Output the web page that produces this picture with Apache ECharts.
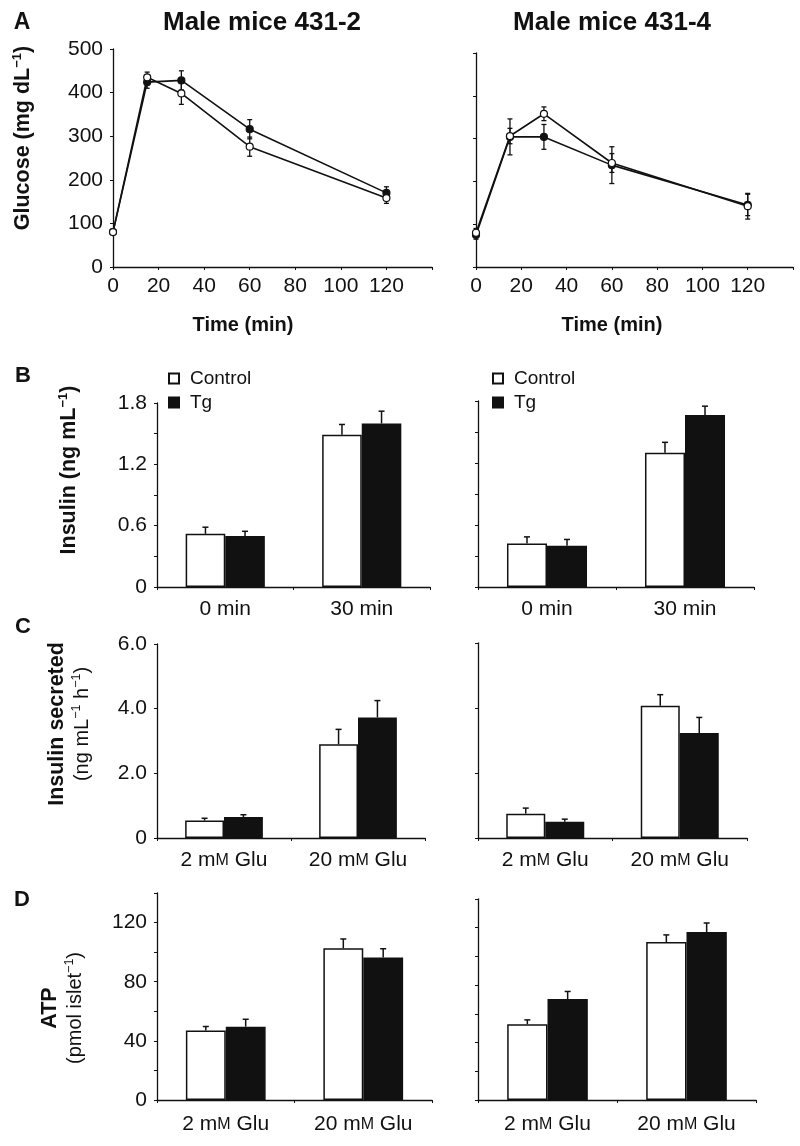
<!DOCTYPE html>
<html>
<head>
<meta charset="utf-8">
<script src="https://cdn.jsdelivr.net/npm/echarts@6/dist/echarts.min.js"></script>
<style>
html,body{margin:0;padding:0;background:#fff;}
#chart{width:800px;height:1146px;}
</style>
</head>
<body>
<div id="chart"></div>
<script>
// ---------- DATA ----------
const timePoints = [0, 15, 30, 60, 120];
const timeTicks = [0, 20, 40, 60, 80, 100, 120];

const glu431_2_control = [80, 435, 398, 276, 158];
const glu431_2_controlErr = [5, 12, 25, 22, 12];
const glu431_2_tg = [80, 424, 428, 316, 170];
const glu431_2_tgErr = [5, 14, 22, 22, 14];

const glu431_4_control = [80, 306, 358, 243, 142];
const glu431_4_controlErr = [10, 18, 16, 22, 30];
const glu431_4_tg = [75, 304, 304, 238, 145];
const glu431_4_tgErr = [10, 42, 29, 43, 25];

const insulinCats = ['0 min', '30 min'];
const ins431_2_control = [0.52, 1.49];
const ins431_2_controlErr = [0.065, 0.10];
const ins431_2_tg = [0.50, 1.60];
const ins431_2_tgErr = [0.045, 0.12];
const ins431_4_control = [0.42, 1.30];
const ins431_4_controlErr = [0.065, 0.10];
const ins431_4_tg = [0.40, 1.665];
const ins431_4_tgErr = [0.06, 0.085];

const gluCats = ['2 mM Glu', '20 mM Glu'];
const sec431_2_control = [0.54, 2.90];
const sec431_2_controlErr = [0.07, 0.46];
const sec431_2_tg = [0.65, 3.73];
const sec431_2_tgErr = [0.07, 0.52];
const sec431_4_control = [0.75, 4.07];
const sec431_4_controlErr = [0.17, 0.34];
const sec431_4_tg = [0.50, 3.23];
const sec431_4_tgErr = [0.08, 0.48];

const atp431_2_control = [47, 102.6];
const atp431_2_controlErr = [2.7, 6.3];
const atp431_2_tg = [49.6, 96.3];
const atp431_2_tgErr = [5, 6];
const atp431_4_control = [52.8, 110];
const atp431_4_controlErr = [3, 5];
const atp431_4_tg = [70.3, 117];
const atp431_4_tgErr = [5.3, 6.3];

// ---------- STYLE ----------
const FONT = '"Liberation Sans", Arial, Helvetica, sans-serif';
const INK = '#111';
const GAP = 0.42;

const chart = echarts.init(document.getElementById('chart'), null, {renderer: 'canvas'});

const grids = [
  {left: 113, top: 49, width: 319, height: 218},    // A left
  {left: 476, top: 53, width: 317, height: 214},    // A right
  {left: 157, top: 403, width: 273, height: 184},   // B left
  {left: 478, top: 401, width: 276, height: 186},   // B right
  {left: 157, top: 644, width: 268, height: 194},   // C left
  {left: 478, top: 643, width: 269, height: 195},   // C right
  {left: 157, top: 893, width: 275, height: 207},   // D left
  {left: 478, top: 899, width: 278, height: 201}    // D right
].map(g => Object.assign({outerBoundsMode: 'none', containLabel: false}, g));

const axisLine = {show: true, lineStyle: {color: INK, width: 1.3}};
const axisTick = {show: true, inside: false, length: 3, lineStyle: {color: INK, width: 1}};
const lblStyle = {color: INK, fontFamily: FONT, fontSize: 21};

function near(v, step){ return Math.abs(v / step - Math.round(v / step)) < 1e-6; }

const xAxes = [];
const yAxes = [];
// A
[0, 1].forEach(i => {
  xAxes.push({gridIndex: i, type: 'value', min: 0, max: 140, interval: 20,
    axisLine, axisTick, splitLine: {show: false},
    axisLabel: Object.assign({}, lblStyle, {margin: 9,
      formatter: v => timeTicks.indexOf(v) >= 0 ? String(v) : ''})});
  yAxes.push({gridIndex: i, type: 'value', min: 0, max: 500, interval: 100,
    axisLine, axisTick, splitLine: {show: false},
    axisLabel: Object.assign({}, lblStyle, {show: i === 0, margin: 10})});
});
const catLabel = Object.assign({}, lblStyle, {margin: 12, interval: 0,
  formatter: v => v.replace('mM', 'm{sc|M}'),
  rich: {sc: {fontFamily: FONT, fontSize: 16, color: INK}}});
// B
[2, 3].forEach(i => {
  xAxes.push({gridIndex: i, type: 'category', data: insulinCats, boundaryGap: true,
    axisLine, axisTick: Object.assign({}, axisTick, {alignWithLabel: false, interval: 0}),
    axisLabel: catLabel});
  yAxes.push({gridIndex: i, type: 'value', min: 0, max: 1.8, interval: 0.3,
    axisLine, axisTick, splitLine: {show: false},
    axisLabel: Object.assign({}, lblStyle, {show: i === 2, margin: 10,
      formatter: v => near(v, 0.6) ? (v === 0 ? '0' : v.toFixed(1)) : ''})});
});
// C
[4, 5].forEach(i => {
  xAxes.push({gridIndex: i, type: 'category', data: gluCats, boundaryGap: true,
    axisLine, axisTick: Object.assign({}, axisTick, {alignWithLabel: false, interval: 0}),
    axisLabel: catLabel});
  yAxes.push({gridIndex: i, type: 'value', min: 0, max: 6, interval: 2,
    axisLine, axisTick, splitLine: {show: false},
    axisLabel: Object.assign({}, lblStyle, {show: i === 4, margin: 10,
      formatter: v => v === 0 ? '0' : v.toFixed(1)})});
});
// D
[6, 7].forEach(i => {
  xAxes.push({gridIndex: i, type: 'category', data: gluCats, boundaryGap: true,
    axisLine, axisTick: Object.assign({}, axisTick, {alignWithLabel: false, interval: 0}),
    axisLabel: Object.assign({}, catLabel, {margin: 14})});
  yAxes.push({gridIndex: i, type: 'value', min: 0, max: 140, interval: 20,
    axisLine, axisTick, splitLine: {show: false},
    axisLabel: Object.assign({}, lblStyle, {show: i === 6, margin: 10,
      formatter: v => near(v, 40) ? String(v) : ''})});
});

const series = [];

// ---- glucose lines with error bars ----
function lineErr(axisIdx, vals, errs, name) {
  series.push({
    type: 'custom', name: name + ' err', xAxisIndex: axisIdx, yAxisIndex: axisIdx, z: 2,
    data: timePoints.map((t, k) => [t, vals[k], errs[k]]),
    encode: {x: 0, y: 1},
    renderItem: (params, api) => {
      const x = api.value(0), v = api.value(1), e = api.value(2);
      const hi = api.coord([x, v + e]), lo = api.coord([x, v - e]);
      const st = {stroke: INK, lineWidth: 1.3};
      return {type: 'group', children: [
        {type: 'line', shape: {x1: hi[0], y1: hi[1], x2: lo[0], y2: lo[1]}, style: st},
        {type: 'line', shape: {x1: hi[0] - 2.5, y1: hi[1], x2: hi[0] + 2.5, y2: hi[1]}, style: st},
        {type: 'line', shape: {x1: lo[0] - 2.5, y1: lo[1], x2: lo[0] + 2.5, y2: lo[1]}, style: st}
      ]};
    }
  });
}
function glucoseLine(axisIdx, vals, name, filled, z) {
  series.push({
    type: 'line', name: name, xAxisIndex: axisIdx, yAxisIndex: axisIdx, z: z,
    data: timePoints.map((t, k) => [t, vals[k]]),
    symbol: 'circle', symbolSize: 7, showSymbol: true,
    lineStyle: {color: INK, width: 1.6},
    itemStyle: {color: filled ? INK : '#fff', borderColor: INK, borderWidth: 1.2},
    animation: false
  });
}
lineErr(0, glu431_2_tg, glu431_2_tgErr, 'Tg 431-2');
lineErr(0, glu431_2_control, glu431_2_controlErr, 'Control 431-2');
glucoseLine(0, glu431_2_tg, 'Tg 431-2 glucose', true, 3);
glucoseLine(0, glu431_2_control, 'Control 431-2 glucose', false, 4);
lineErr(1, glu431_4_tg, glu431_4_tgErr, 'Tg 431-4');
lineErr(1, glu431_4_control, glu431_4_controlErr, 'Control 431-4');
glucoseLine(1, glu431_4_tg, 'Tg 431-4 glucose', true, 3);
glucoseLine(1, glu431_4_control, 'Control 431-4 glucose', false, 4);

// ---- bars with upward error bars ----
function barPair(axisIdx, ctrl, ctrlErr, tg, tgErr) {
  series.push({
    type: 'bar', name: 'Control', xAxisIndex: axisIdx, yAxisIndex: axisIdx,
    data: ctrl, barGap: '0%', barCategoryGap: (GAP * 100) + '%',
    itemStyle: {color: '#fff', borderColor: INK, borderWidth: 1.5}, z: 2
  });
  series.push({
    type: 'bar', name: 'Tg', xAxisIndex: axisIdx, yAxisIndex: axisIdx,
    data: tg, barGap: '0%', barCategoryGap: (GAP * 100) + '%',
    itemStyle: {color: INK, borderColor: INK, borderWidth: 1.5}, z: 2
  });
  [[ctrl, ctrlErr, -1], [tg, tgErr, 1]].forEach(([vals, errs, side]) => {
    series.push({
      type: 'custom', name: 'err', xAxisIndex: axisIdx, yAxisIndex: axisIdx, z: 1,
      data: vals.map((v, k) => [k, v, errs[k]]),
      encode: {x: 0, y: 1},
      renderItem: (params, api) => {
        const k = api.value(0), v = api.value(1), e = api.value(2);
        const base = api.coord([k, v]), top = api.coord([k, v + e]);
        const band = api.size([1, 0])[0];
        const barW = band * (1 - GAP) / 2;
        const cx = base[0] + side * barW / 2;
        const st = {stroke: INK, lineWidth: 1.5};
        return {type: 'group', children: [
          {type: 'line', shape: {x1: cx, y1: base[1], x2: cx, y2: top[1]}, style: st},
          {type: 'line', shape: {x1: cx - 3, y1: top[1], x2: cx + 3, y2: top[1]}, style: st}
        ]};
      }
    });
  });
}
barPair(2, ins431_2_control, ins431_2_controlErr, ins431_2_tg, ins431_2_tgErr);
barPair(3, ins431_4_control, ins431_4_controlErr, ins431_4_tg, ins431_4_tgErr);
barPair(4, sec431_2_control, sec431_2_controlErr, sec431_2_tg, sec431_2_tgErr);
barPair(5, sec431_4_control, sec431_4_controlErr, sec431_4_tg, sec431_4_tgErr);
barPair(6, atp431_2_control, atp431_2_controlErr, atp431_2_tg, atp431_2_tgErr);
barPair(7, atp431_4_control, atp431_4_controlErr, atp431_4_tg, atp431_4_tgErr);

// ---- legends ----
function legendAt(left) {
  return {
    show: true, orient: 'vertical', left: left, top: 364,
    data: ['Control', 'Tg'], itemWidth: 10, itemHeight: 10, itemGap: 5,
    icon: 'rect', selectedMode: false,
    textStyle: {color: INK, fontFamily: FONT, fontSize: 19, padding: [0, 0, 0, 6]}
  };
}

// ---- texts ----
const rich = {
  b: {fontFamily: FONT, fontSize: 21.5, fontWeight: 'bold', fill: INK, lineHeight: 25, verticalAlign: 'middle'},
  bs: {fontFamily: FONT, fontSize: 13, fontWeight: 'bold', fill: INK, lineHeight: 13, verticalAlign: 'top'},
  n: {fontFamily: FONT, fontSize: 20, fill: INK, lineHeight: 25, verticalAlign: 'middle'},
  ns: {fontFamily: FONT, fontSize: 12.5, fill: INK, lineHeight: 13, verticalAlign: 'top'}
};
function txt(x, y, text, size, bold) {
  return {type: 'text', x: x, y: y, style: {text: text, fontFamily: FONT, fontSize: size,
    fontWeight: bold ? 'bold' : 'normal', fill: INK, align: 'center', verticalAlign: 'middle'}};
}
function vtxt(x, y, text) {
  return {type: 'text', x: x, y: y, rotation: Math.PI / 2,
    style: {text: text, rich: rich, align: 'center', verticalAlign: 'middle', fill: INK}};
}
const graphics = [
  txt(22, 23, 'A', 23, true),
  txt(23, 376, 'B', 22, true),
  txt(23, 627, 'C', 22, true),
  txt(22, 900, 'D', 22, true),
  txt(262, 23, 'Male mice 431-2', 26, true),
  txt(612, 23, 'Male mice 431-4', 26, true),
  txt(243, 325, 'Time (min)', 20, true),
  txt(612, 325, 'Time (min)', 20, true),
  vtxt(23, 138, '{b|Glucose (mg dL}{bs|−1}{b|)}'),
  vtxt(69, 470, '{b|Insulin (ng mL}{bs|−1}{b|)}'),
  vtxt(70, 724, '{b|Insulin secreted}\n{n|(ng mL}{ns|−1}{n| h}{ns|−1}{n|)}'),
  vtxt(63, 1008, '{b|ATP}\n{n|(pmol islet}{ns|−1}{n|)}')
];

chart.setOption({
  animation: false,
  backgroundColor: '#fff',
  grid: grids,
  xAxis: xAxes,
  yAxis: yAxes,
  legend: [legendAt(163), legendAt(487)],
  series: series,
  graphic: {elements: graphics}
});
</script>
</body>
</html>
